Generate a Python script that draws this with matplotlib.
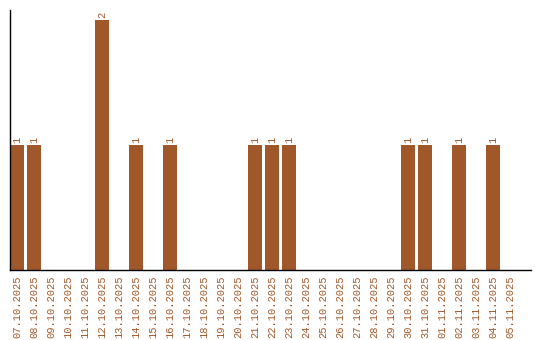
import matplotlib.pyplot as plt

# Daily counts from 07.10.2025 to 05.11.2025
dates = ["07.10.2025", "08.10.2025", "09.10.2025", "10.10.2025", "11.10.2025",
         "12.10.2025", "13.10.2025", "14.10.2025", "15.10.2025", "16.10.2025",
         "17.10.2025", "18.10.2025", "19.10.2025", "20.10.2025", "21.10.2025",
         "22.10.2025", "23.10.2025", "24.10.2025", "25.10.2025", "26.10.2025",
         "27.10.2025", "28.10.2025", "29.10.2025", "30.10.2025", "31.10.2025",
         "01.11.2025", "02.11.2025", "03.11.2025", "04.11.2025", "05.11.2025"]
counts = [1, 1, 0, 0, 0, 2, 0, 1, 0, 1,
          0, 0, 0, 0, 1, 1, 1, 0, 0, 0,
          0, 0, 0, 1, 1, 0, 1, 0, 1, 0]

color = "#A0582A"
font = "Liberation Mono"

fig = plt.figure(figsize=(5.4, 3.4), dpi=100)
ax = fig.add_axes([10 / 540, 70 / 340, 521 / 540, 260 / 340])

x = list(range(len(dates)))
ax.bar(x, counts, width=14 / 17, color=color)

for i, c in enumerate(counts):
    if c > 0:
        ax.text(i, c + 0.015, str(c), rotation=90, ha="center", va="bottom",
                color=color, fontsize=7.5, family=font)

ax.set_xlim(-7 / 17, 29 + 21 / 17)
ax.set_ylim(0, 2.08)
ax.set_xticks(x)
ax.set_xticklabels(dates, rotation=90, color=color, fontsize=7.5, family=font)
ax.tick_params(axis="x", length=0, pad=4)
ax.set_yticks([])
ax.spines["top"].set_visible(False)
ax.spines["right"].set_visible(False)
ax.spines["left"].set_linewidth(1)
ax.spines["bottom"].set_linewidth(1)

fig.savefig("out.png", dpi=100)
